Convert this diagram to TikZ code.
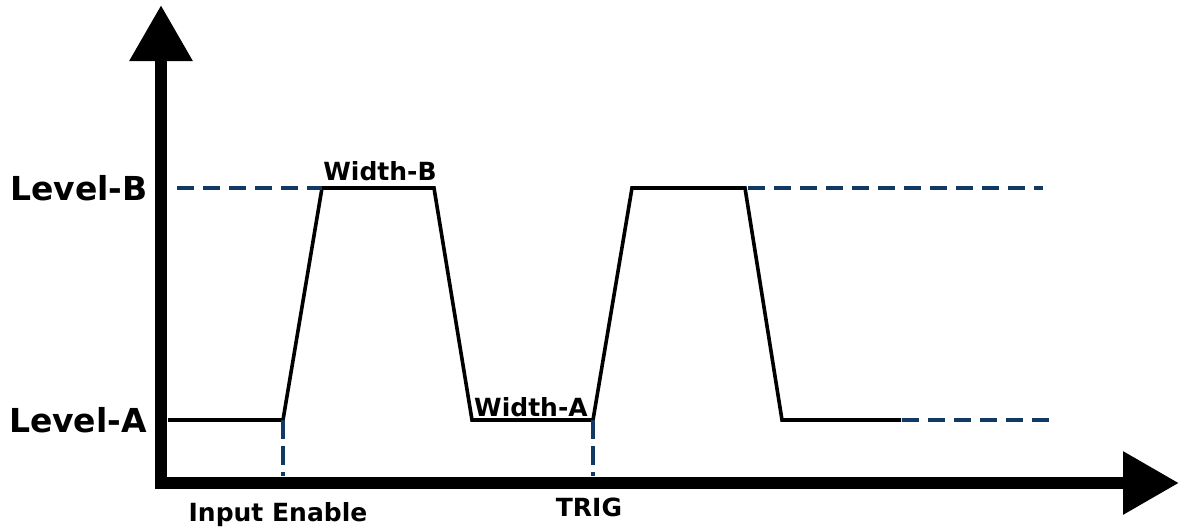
\documentclass[tikz,border=0pt]{standalone}
\usepackage{fontspec}
\setmainfont{DejaVu Sans}
\usetikzlibrary{arrows.meta, positioning, calc}
\definecolor{levelblue}{RGB}{16,58,100}
\tikzset{
  axis/.style={line width=12.5pt, -{Triangle[width=60pt,length=56pt]}},
  signal/.style={line width=3.6pt, line join=miter},
  guide/.style={line width=3.6pt, levelblue, dash pattern=on 17pt off 9pt},
  lbl/.style={font=\bfseries, inner sep=0pt, anchor=base}
}
\begin{document}
\begin{tikzpicture}[x=1pt, y=-1pt]
\useasboundingbox (0,0) rectangle (1179,528);
% Axes
\coordinate (corner) at (161,483);
\coordinate (ytip) at (161,5);
\coordinate (xtip) at (1179,483);
\draw[axis] (155,483) -- (xtip);
\draw[axis] (161,489) -- (ytip);

% Signal
\coordinate (start) at (168,420);
\coordinate (en) at (283,420);
\coordinate (b1) at (322,188);
\coordinate (b2) at (434,188);
\coordinate (a1) at (472,420);
\coordinate (trig) at (593,420);
\coordinate (b3) at (632,188);
\coordinate (b4) at (745,188);
\coordinate (a2) at (782,420);
\coordinate (stop) at (901,420);
\draw[signal] (start) -- (en) -- (b1) -- (b2) -- (a1) -- (trig) -- (b3) -- (b4) -- (a2) -- (stop);

% Guides
\draw[guide] (177,188) -- (b1);
\draw[guide] (b4) ++(3,0) -- (1043,188);
\draw[guide] (stop) ++(1,0) -- (1050,420);
\draw[guide, dash pattern=on 19pt off 7pt] (en) -- (283,476);
\draw[guide, dash pattern=on 19pt off 7pt] (trig) -- (593,476);

% Labels
\node[lbl, font=\bfseries\fontsize{33}{33}\selectfont] (levelB) at (79,200) {Level-B};
\node[lbl, font=\bfseries\fontsize{33}{33}\selectfont] (levelA) at (78,432) {Level-A};
\node[lbl, font=\bfseries\fontsize{25}{25}\selectfont] (widthB) at (380,180) {Width-B};
\node[lbl, font=\bfseries\fontsize{25}{25}\selectfont] (widthA) at (531,416) {Width-A};
\node[lbl, font=\bfseries\fontsize{25}{25}\selectfont] (inputen) at (278,521) {Input Enable};
\node[lbl, font=\bfseries\fontsize{25}{25}\selectfont] (triglbl) at (589,516) {TRIG};
\end{tikzpicture}
\end{document}
